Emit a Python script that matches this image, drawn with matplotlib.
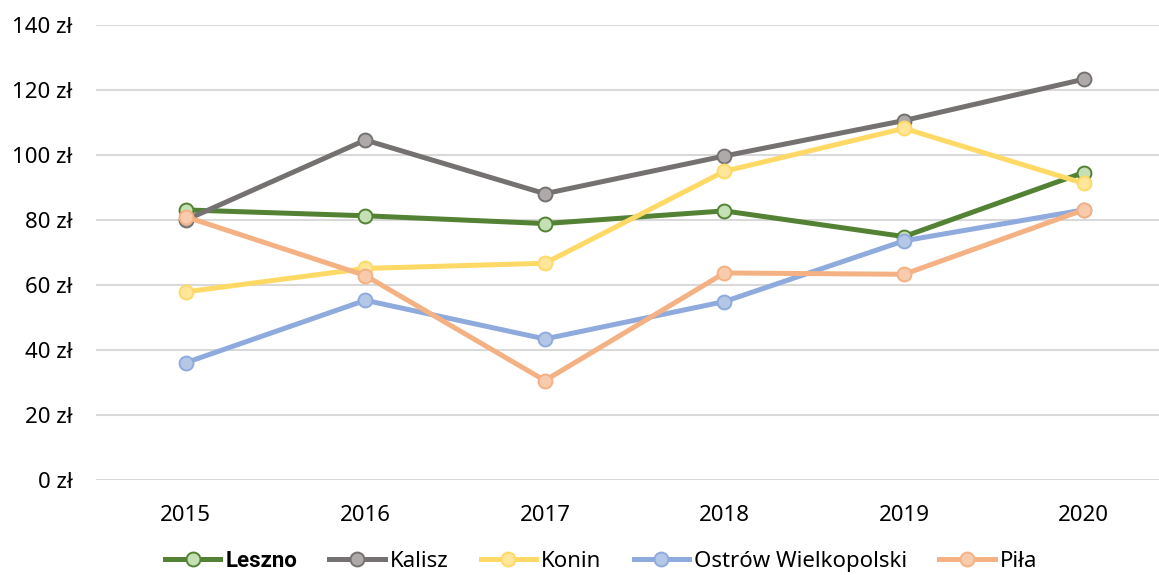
import matplotlib
matplotlib.use("Agg")
from matplotlib import pyplot as plt

years = ['2015', '2016', '2017', '2018', '2019', '2020']

leszno = [83.1, 81.3, 78.9, 82.8, 74.9, 94.6]
kalisz = [80.0, 104.6, 88.1, 99.7, 110.6, 123.3]
konin = [57.9, 65.1, 66.7, 95.0, 108.2, 91.3]
ostrow = [36.1, 55.3, 43.4, 54.9, 73.6, 83.1]
pila = [81.0, 62.9, 30.6, 63.7, 63.3, 83.1]

series_names = ['Leszno', 'Kalisz', 'Konin', 'Ostrów Wielkopolski', 'Piła']
y_ticks = [0, 20, 40, 60, 80, 100, 120, 140]

plt.rcParams['font.family'] = ['Noto Sans', 'DejaVu Sans']

fig = plt.figure(figsize=(11.59, 5.75), dpi=100)
ax = fig.add_axes([96 / 1159, 95 / 575, 1063 / 1159, 455 / 575])

styles = [
    ('#548235', '#C5E0B4'),
    ('#767171', '#AEAAAA'),
    ('#FFD966', '#FFE699'),
    ('#8FAADC', '#B4C7E7'),
    ('#F4B183', '#F8CBAD'),
]

x = range(len(years))
for name, values, (line_c, fill_c) in zip(series_names, [leszno, kalisz, konin, ostrow, pila], styles):
    ax.plot(x, values, color=line_c, linewidth=3.6, marker='o', markersize=10,
            markerfacecolor=fill_c, markeredgecolor=line_c, markeredgewidth=1.4,
            label=name, clip_on=False, zorder=3)

ax.set_ylim(0, 140)
ax.set_xlim(-0.5, 5.42)
ax.set_yticks(y_ticks)
ax.set_yticklabels([f'{v} zł' for v in y_ticks])
ax.set_xticks(list(x))
ax.set_xticklabels(years)
ax.tick_params(axis='both', length=0, labelsize=16, colors='#000000')
ax.tick_params(axis='y', pad=17)
ax.tick_params(axis='x', pad=18)

ax.grid(axis='y', color='#D9D9D9', linewidth=1.5)
ax.set_axisbelow(True)
for s in ax.spines.values():
    s.set_visible(False)

leg = fig.legend(loc='center', bbox_to_anchor=(601 / 1159, 1 - 561 / 575), ncol=5,
                 frameon=False, fontsize=16, handlelength=2.5, handletextpad=0.22,
                 columnspacing=1.45)
first = leg.get_texts()[0]
first.set_fontfamily(['Roboto', 'DejaVu Sans'])
first.set_fontweight('bold')

fig.savefig('out.png', dpi=100)
